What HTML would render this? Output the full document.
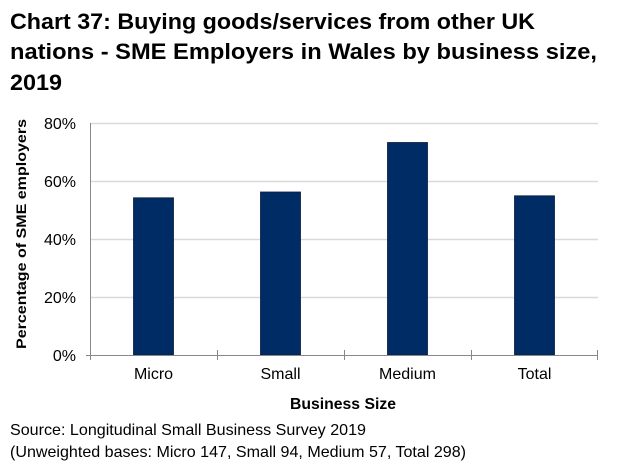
<!DOCTYPE html>
<html><head><meta charset="utf-8"><style>
html,body{margin:0;padding:0;background:#fff;}
svg{display:block;}
text{font-family:"Liberation Sans",Arial,sans-serif;fill:#000;}
</style></head><body>
<svg width="622" height="471" viewBox="0 0 622 471">
<text x="10" y="29" font-size="22" font-weight="bold" textLength="525" lengthAdjust="spacingAndGlyphs">Chart 37: Buying goods/services from other UK</text>
<text x="10" y="59" font-size="22" font-weight="bold" textLength="587" lengthAdjust="spacingAndGlyphs">nations - SME Employers in Wales by business size,</text>
<text x="10" y="90" font-size="22" font-weight="bold" textLength="52" lengthAdjust="spacingAndGlyphs">2019</text>
<g stroke="#d9d9d9" stroke-width="1.5">
<line x1="90" y1="123.5" x2="598" y2="123.5"/>
<line x1="90" y1="181.5" x2="598" y2="181.5"/>
<line x1="90" y1="239.5" x2="598" y2="239.5"/>
<line x1="90" y1="297.5" x2="598" y2="297.5"/>
</g>
<g fill="#002c65" stroke="#0c1a3a" stroke-width="0.8">
<rect x="133.5" y="197.8" width="40" height="157.2"/>
<rect x="260.5" y="192" width="40" height="163"/>
<rect x="387.5" y="142.5" width="40" height="212.5"/>
<rect x="514.5" y="195.8" width="40" height="159.2"/>
</g>
<g stroke="#888" stroke-width="1">
<line x1="90.5" y1="123" x2="90.5" y2="355"/>
<line x1="86" y1="355.5" x2="598" y2="355.5"/>
<line x1="90.5" y1="355" x2="90.5" y2="360"/>
<line x1="217.5" y1="350" x2="217.5" y2="360"/>
<line x1="344.5" y1="350" x2="344.5" y2="360"/>
<line x1="471.5" y1="350" x2="471.5" y2="360"/>
<line x1="597.5" y1="350" x2="597.5" y2="360"/>
</g>
<g font-size="16" text-anchor="end">
<text x="76" y="129">80%</text>
<text x="76" y="187">60%</text>
<text x="76" y="245">40%</text>
<text x="76" y="303">20%</text>
<text x="76" y="361">0%</text>
</g>
<g font-size="16" text-anchor="middle">
<text x="153.5" y="379">Micro</text>
<text x="280.5" y="379">Small</text>
<text x="407.5" y="379">Medium</text>
<text x="534.5" y="379">Total</text>
</g>
<text x="343" y="409" font-size="16" font-weight="bold" text-anchor="middle" textLength="106" lengthAdjust="spacingAndGlyphs">Business Size</text>
<text transform="translate(26,234) rotate(-90)" font-size="14" font-weight="bold" text-anchor="middle" textLength="230" lengthAdjust="spacingAndGlyphs">Percentage of SME employers</text>
<text x="10" y="435" font-size="16" textLength="356" lengthAdjust="spacingAndGlyphs">Source: Longitudinal Small Business Survey 2019</text>
<text x="10" y="457" font-size="16" textLength="456" lengthAdjust="spacingAndGlyphs">(Unweighted bases: Micro 147, Small 94, Medium 57, Total 298)</text>
</svg>
</body></html>
